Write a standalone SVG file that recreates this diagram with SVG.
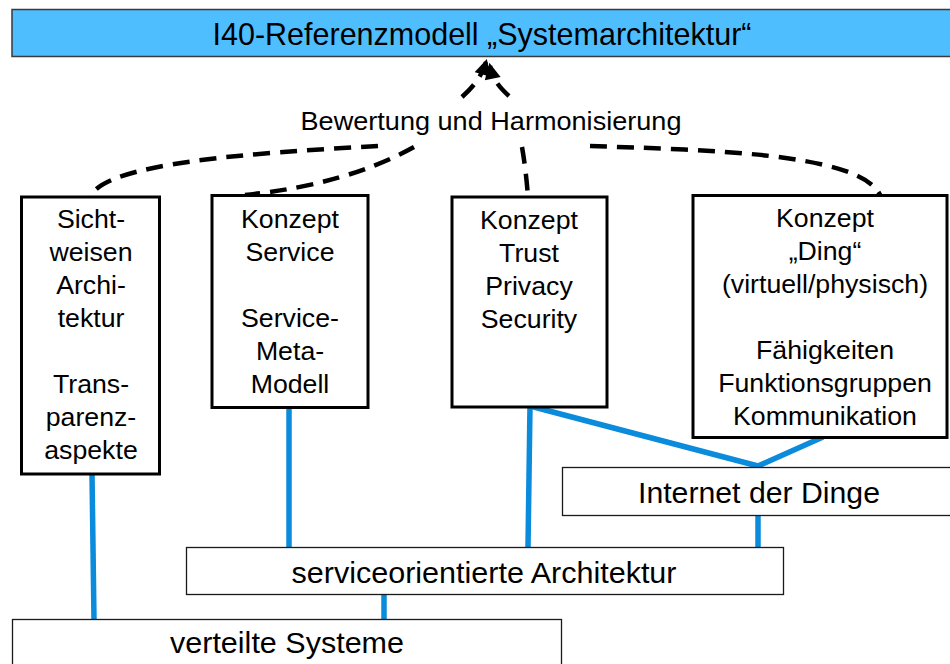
<svg xmlns="http://www.w3.org/2000/svg" width="950" height="664" viewBox="0 0 950 664">
  <style>
    .t { font-family: "Liberation Sans", Arial, sans-serif; font-size: 26.7px; fill: #000; text-anchor: middle; }
    .big { font-size: 29px; }
    .node { fill: #fff; stroke: #000; stroke-width: 3; }
    .layer { fill: #fff; stroke: #1a1a1a; stroke-width: 1.3; }
    .link { fill: none; stroke: #0a8bdb; stroke-width: 5.5; stroke-linejoin: miter; }
    .dash { fill: none; stroke: #000; stroke-width: 4.5; stroke-dasharray: 17 10; }
  </style>
  <defs>
    <marker id="head" viewBox="0 0 10 10" refX="8" refY="5" markerWidth="4" markerHeight="3.6" markerUnits="strokeWidth" orient="auto">
      <path d="M0,0 L10,5 L0,10 Z" fill="#000"/>
    </marker>
  </defs>

  <rect width="950" height="664" fill="#fff"/>

  <!-- reference model header -->
  <g id="referenzmodell">
    <rect x="12" y="9.5" width="950" height="47" fill="#4fbeff" stroke="#3a3a3a" stroke-width="1.5"/>
    <text class="t" x="482" y="45" style="font-size:30.5px" textLength="539" lengthAdjust="spacingAndGlyphs">I40-Referenzmodell „Systemarchitektur“</text>
  </g>

  <!-- evaluation label -->
  <g id="bewertung">
    <text class="t" x="491" y="130" textLength="381" lengthAdjust="spacingAndGlyphs">Bewertung und Harmonisierung</text>
  </g>

  <!-- connectors -->
  <g id="connectors">
    <!-- dashed evaluation links -->
    <path class="dash" d="M462,97 C474,86 482,76 486,62" stroke-dasharray="12 7" marker-end="url(#head)"/>
    <path class="dash" d="M509,96 C500,88 493,80 490,66" stroke-dasharray="8 7" marker-end="url(#head)"/>
    <path class="dash" d="M378,146 C250,153 105,163 90,197"/>
    <path class="dash" d="M414,147 Q345,185 245,195"/>
    <path class="dash" d="M522,147 Q526,170 528,197"/>
    <path class="dash" d="M590,146 C700,150 860,152 880,195"/>

    <!-- blue structural links -->
    <path class="link" d="M92,474 L94,620"/>
    <path class="link" d="M289,408 L289,547"/>
    <path class="link" d="M530,406 L528,547"/>
    <path class="link" d="M530,406 L758,466 L823,437"/>
    <path class="link" d="M758,516 L758,547"/>
    <path class="link" d="M384,595 L384,619"/>
  </g>

  <!-- concept nodes -->
  <g id="sichtweisen">
    <rect class="node" x="21.5" y="197" width="138" height="277"/>
    <text class="t" x="91" y="228">Sicht-</text>
    <text class="t" x="91" y="261">weisen</text>
    <text class="t" x="91" y="294">Archi-</text>
    <text class="t" x="91" y="327">tektur</text>
    <text class="t" x="91" y="393">Trans-</text>
    <text class="t" x="91" y="426">parenz-</text>
    <text class="t" x="91" y="459">aspekte</text>
  </g>

  <g id="konzept-service">
    <rect class="node" x="212" y="195.5" width="156" height="212"/>
    <text class="t" x="290" y="228">Konzept</text>
    <text class="t" x="290" y="261">Service</text>
    <text class="t" x="290" y="327">Service-</text>
    <text class="t" x="290" y="360">Meta-</text>
    <text class="t" x="290" y="393">Modell</text>
  </g>

  <g id="konzept-trust">
    <rect class="node" x="452" y="197" width="155" height="210"/>
    <text class="t" x="529" y="229">Konzept</text>
    <text class="t" x="529" y="262">Trust</text>
    <text class="t" x="529" y="295">Privacy</text>
    <text class="t" x="529" y="328">Security</text>
  </g>

  <g id="konzept-ding">
    <rect class="node" x="693" y="195.5" width="254" height="242"/>
    <text class="t" x="825" y="227">Konzept</text>
    <text class="t" x="825" y="260">„Ding“</text>
    <text class="t" x="825" y="293">(virtuell/physisch)</text>
    <text class="t" x="825" y="359">Fähigkeiten</text>
    <text class="t" x="825" y="392">Funktionsgruppen</text>
    <text class="t" x="825" y="425">Kommunikation</text>
  </g>

  <!-- layer nodes -->
  <g id="internet-der-dinge">
    <rect class="layer" x="562.5" y="467.5" width="400" height="48"/>
    <text class="t big" x="759" y="503" textLength="242" lengthAdjust="spacingAndGlyphs">Internet der Dinge</text>
  </g>

  <g id="soa">
    <rect class="layer" x="186.5" y="547.5" width="597" height="47"/>
    <text class="t big" x="484" y="583" textLength="385" lengthAdjust="spacingAndGlyphs">serviceorientierte Architektur</text>
  </g>

  <g id="verteilte-systeme">
    <rect class="layer" x="12.5" y="619.5" width="549" height="60"/>
    <text class="t big" x="287" y="653" textLength="234" lengthAdjust="spacingAndGlyphs">verteilte Systeme</text>
  </g>
</svg>
